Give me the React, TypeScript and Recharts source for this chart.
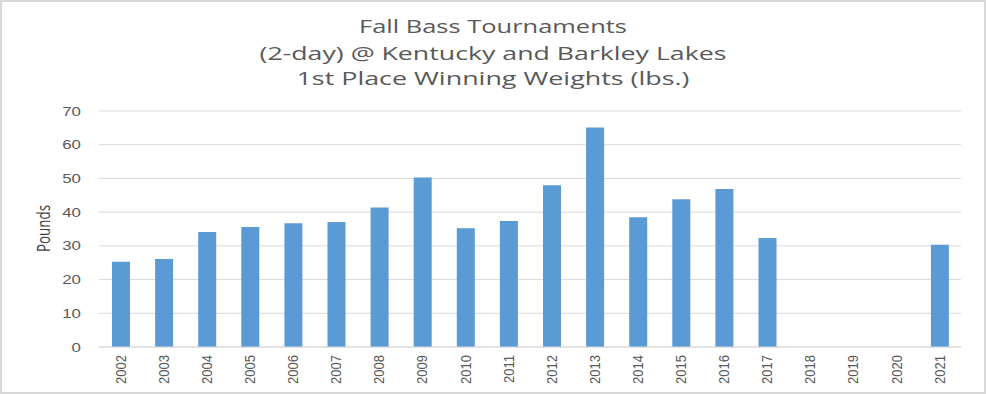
import React from "react";
import { BarChart, Bar, XAxis, YAxis, CartesianGrid } from "recharts";

const years = [
  "2002", "2003", "2004", "2005", "2006", "2007", "2008", "2009", "2010", "2011",
  "2012", "2013", "2014", "2015", "2016", "2017", "2018", "2019", "2020", "2021",
];
const weights: (number | null)[] = [
  25.3, 26.1, 34.1, 35.6, 36.7, 37.1, 41.4, 50.3, 35.2, 37.4,
  48.0, 65.1, 38.5, 43.8, 46.9, 32.3, null, null, null, 30.3,
];
const yTicks = [0, 10, 20, 30, 40, 50, 60, 70];
const titleLines = [
  "Fall Bass Tournaments",
  "(2-day) @ Kentucky and Barkley Lakes",
  "1st Place Winning Weights (lbs.)",
];
const yAxisTitle = "Pounds";

const data = years.map((y, i) => ({ year: y, weight: weights[i] }));

const XTick = (props: any) => {
  const { x, y, payload } = props;
  return (
    <g transform={`translate(${x},${y})`}>
      <text
        transform="rotate(-90) scale(1,1.12)"
        textAnchor="end"
        dy="0.36em"
        fontSize={13}
        fontFamily="Liberation Sans, Arial, sans-serif"
        fill="#595959"
      >
        {payload.value}
      </text>
    </g>
  );
};

const YTick = (props: any) => {
  const { x, y, payload } = props;
  return (
    <g transform={`translate(${x},${y}) scale(1.35,1)`}>
      <text
        textAnchor="end"
        dy="0.36em"
        fontSize={12.5}
        fontFamily="Liberation Sans, Arial, sans-serif"
        fill="#595959"
      >
        {payload.value}
      </text>
    </g>
  );
};

const titleWidths = [268, 467, 393];
const titleBaselines = [33, 60, 85];

export default function App() {
  return (
    <div
      style={{
        position: "absolute",
        left: 0,
        top: 0,
        width: 986,
        height: 395,
        background: "#fff",
      }}
    >
      <BarChart
        width={986}
        height={395}
        data={data}
        margin={{ top: 111, right: 25, bottom: 0, left: 0 }}
        barCategoryGap={0}
      >
        <CartesianGrid vertical={false} stroke="#d9d9d9" strokeWidth={1} />
        <XAxis
          dataKey="year"
          interval={0}
          height={48}
          tickLine={false}
          tickSize={0}
          tickMargin={8}
          axisLine={{ stroke: "#d9d9d9" }}
          tick={<XTick />}
        />
        <YAxis
          width={99}
          domain={[0, 70]}
          ticks={yTicks}
          axisLine={false}
          tickLine={false}
          tickSize={0}
          tickMargin={18}
          tick={<YTick />}
        />
        <Bar
          dataKey="weight"
          fill="#5b9bd5"
          barSize={18}
          isAnimationActive={false}
        />
      </BarChart>
      <svg
        width={986}
        height={395}
        style={{ position: "absolute", left: 0, top: 0, pointerEvents: "none" }}
      >
        {titleLines.map((t, i) => (
          <text
            key={i}
            x={493}
            y={titleBaselines[i]}
            textAnchor="middle"
            fontSize={18}
            fontFamily="Open Sans, sans-serif"
            fill="#595959"
            textLength={titleWidths[i]}
            lengthAdjust="spacingAndGlyphs"
          >
            {t}
          </text>
        ))}
        <text
          transform="translate(50,228.5) rotate(-90) scale(1,1.35)"
          textAnchor="middle"
          fontSize={14}
          fontFamily="Open Sans, sans-serif"
          fill="#404040"
          textLength={47}
          lengthAdjust="spacingAndGlyphs"
        >
          {yAxisTitle}
        </text>
      </svg>
      <div
        style={{
          position: "absolute",
          left: 0,
          top: 0,
          width: 986,
          height: 394,
          border: "2px solid #d9d9d9",
          boxSizing: "border-box",
          pointerEvents: "none",
        }}
      />
    </div>
  );
}
